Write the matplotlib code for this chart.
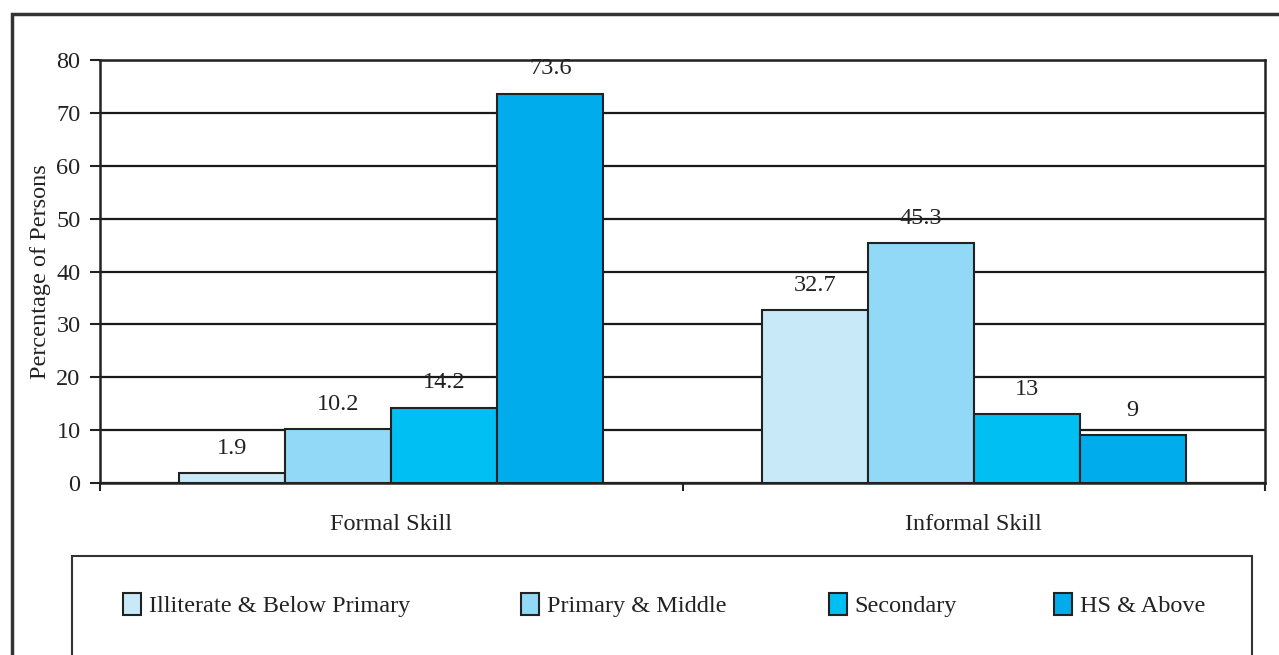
import numpy as np
import matplotlib.pyplot as plt
from matplotlib.patches import Rectangle

plt.rcParams['font.family'] = ['Liberation Serif', 'DejaVu Serif']

categories = ["Formal Skill", "Informal Skill"]
levels = ["Illiterate & Below Primary", "Primary & Middle", "Secondary", "HS & Above"]
values = {
    "Illiterate & Below Primary": [1.9, 32.7],
    "Primary & Middle": [10.2, 45.3],
    "Secondary": [14.2, 13],
    "HS & Above": [73.6, 9],
}
colors = ["#C7E9F8", "#91D9F6", "#00BFF2", "#00ACEB"]
y_ticks = [0, 10, 20, 30, 40, 50, 60, 70, 80]

fs = 17.5
ink = "#222222"

fig = plt.figure(figsize=(12.79, 6.55), dpi=100)
ax = fig.add_axes([100/1279, 1-483/655, 1165/1279, 423/655])

x = np.arange(len(categories))
width = 0.182
handles = []
for i, lvl in enumerate(levels):
    pos = x + (i - 1.5) * width
    bars = ax.bar(pos, values[lvl], width, color=colors[i], edgecolor=ink,
                  linewidth=1.5, label=lvl, zorder=3)
    handles.append(bars)
    for xp, v in zip(pos, values[lvl]):
        ax.annotate(f"{v:g}", (xp, v), xytext=(0, 14), textcoords="offset points",
                    ha="center", va="baseline", fontsize=fs, color=ink)

ax.set_xlim(-0.5, 1.5)
ax.set_ylim(0, 80)
ax.set_yticks(y_ticks)
ax.yaxis.grid(True, color="#1a1a1a", linewidth=1.6)
ax.set_axisbelow(True)

ax.set_xticks(x)
ax.set_xticklabels(categories)
ax.set_xticks([-0.5, 0.5, 1.5], minor=True)
ax.tick_params(axis="x", which="major", length=0, pad=22, labelsize=fs, labelcolor=ink)
ax.tick_params(axis="x", which="minor", length=6, width=1.5, direction="out", color=ink)
ax.tick_params(axis="y", length=7, width=1.5, pad=7, labelsize=fs, labelcolor=ink, color=ink)

for side in ["left", "bottom", "right", "top"]:
    ax.spines[side].set_linewidth(1.8)
    ax.spines[side].set_color(ink)

ax.set_ylabel("Percentage of Persons", fontsize=fs, color=ink, labelpad=4)

# outer frame and legend box
fig.patches.append(Rectangle((12/1279, -0.1), 1.2, 1 - 14/655 + 0.1, transform=fig.transFigure,
                             fill=False, edgecolor="#333333", linewidth=2.5))
fig.patches.append(Rectangle((72/1279, -0.1), 1180/1279, 1 - 556/655 + 0.1, transform=fig.transFigure,
                             fill=False, edgecolor="#333333", linewidth=1.5))

# one legend entry per column, spaced as in the boxed key
legend_x = [123, 521, 829, 1054]
for h, lvl, lx in zip(handles, levels, legend_x):
    leg = fig.legend(handles=[h], labels=[lvl], loc="center left",
                     bbox_to_anchor=(lx/1279, 1 - 605/655), frameon=False, fontsize=fs,
                     handlelength=0.75, handleheight=1.0, handletextpad=0.3,
                     borderaxespad=0, borderpad=0)
    for t in leg.get_texts():
        t.set_color(ink)

fig.savefig("out.png", dpi=100)
